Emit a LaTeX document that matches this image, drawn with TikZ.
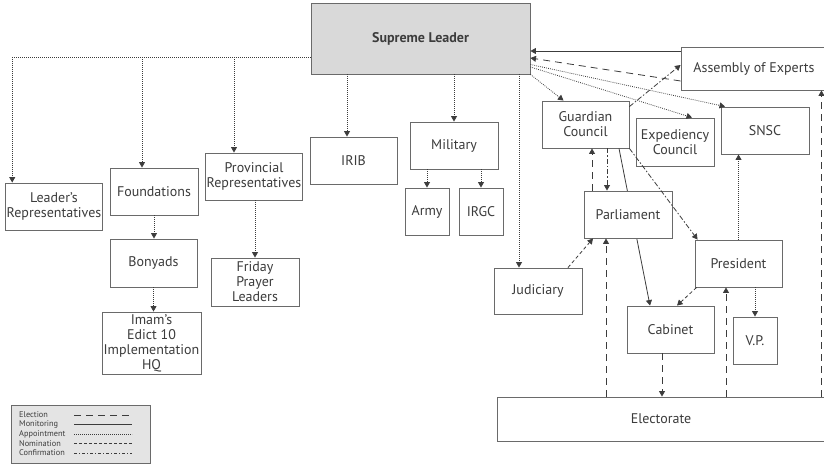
\documentclass[tikz,border=0pt]{standalone}
\usepackage{fontspec}
\setmainfont{PT Sans}
\usetikzlibrary{arrows.meta,matrix}
\definecolor{boxgray}{HTML}{6A6A6A}
\definecolor{txtgray}{HTML}{3C3C3C}
\definecolor{leadfill}{HTML}{D9D9D9}
\definecolor{legfill}{HTML}{E4E4E4}
\tikzset{
  box/.style={draw=boxgray, fill=white, line width=0.9pt, text=txtgray, align=center,
    inner sep=1pt, font=\fontsize{14}{15}\selectfont},
  link/.style={draw=txtgray, line width=0.8pt},
  elect/.style={link, dash pattern=on 7pt off 5pt},
  monit/.style={link},
  appoint/.style={link, dash pattern=on 0.8pt off 1.2pt},
  nomin/.style={link, dash pattern=on 3.5pt off 2.5pt},
  confirm/.style={link, dash pattern=on 5pt off 2pt on 1.5pt off 2pt},
}
\begin{document}
\begin{tikzpicture}[x=1pt, y=-1pt, >={Triangle[length=5.5pt,width=6pt]}]
\useasboundingbox (0,0) rectangle (824,466);
\node[box, fill=leadfill, minimum width=219, minimum height=71, font=\fontsize{14}{15}\selectfont\bfseries] (SL) at (420.5,38.5) {Supreme Leader};
\node[box, minimum width=94, minimum height=47] (LR) at (54,206.5) {Leader’s\\Representatives};
\node[box, minimum width=88, minimum height=47] (Found) at (154,191.5) {Foundations};
\node[box, minimum width=94, minimum height=47] (Prov) at (254,176.5) {Provincial\\Representatives};
\node[box, minimum width=87, minimum height=47] (IRIB) at (353.5,160.5) {IRIB};
\node[box, minimum width=88, minimum height=47] (Mil) at (454,145.5) {Military};
\node[box, minimum width=44, minimum height=47] (Army) at (427,211.5) {Army};
\node[box, minimum width=44, minimum height=47] (IRGC) at (481,211.5) {IRGC};
\node[box, minimum width=88, minimum height=46] (Jud) at (538,291) {Judiciary};
\node[box, minimum width=87, minimum height=47] (GC) at (585.5,124.5) {Guardian\\Council};
\node[box, minimum width=78, minimum height=48] (EC) at (675,142) {Expediency\\Council};
\node[box, minimum width=88, minimum height=47] (SNSC) at (765,130.5) {SNSC};
\node[box, minimum width=146, minimum height=43] (AoE) at (754,68.5) {Assembly of Experts};
\node[box, minimum width=87, minimum height=47] (Pres) at (738.5,263.5) {President};
\node[box, minimum width=87, minimum height=47] (Cab) at (670.5,329.5) {Cabinet};
\node[box, minimum width=44, minimum height=47] (VP) at (755,340.5) {V.P.};
\node[box, minimum width=328, minimum height=44] (Elec) at (661,419) {Electorate};
\node[box, minimum width=87, minimum height=48] (Bony) at (153.5,263) {Bonyads};
\node[box, minimum width=88, minimum height=48] (Fri) at (255,282) {Friday\\Prayer\\Leaders};
\node[box, minimum width=99, minimum height=62, inner sep=0pt] (Imam) at (151.5,343) {Imam’s\\Edict 10\\Implementation\\HQ};

\draw[monit,->] ([xshift=33.5pt]GC.south) -- ([xshift=-20.5pt]Cab.north);
\node[box, minimum width=88, minimum height=47] (Parl) at (628,214.5) {Parliament};

\coordinate (hl) at ([yshift=-18.5pt]SL.west);
\draw[appoint,->] (hl) -| ([xshift=7pt]LR.north west);
\coordinate (fd) at ([xshift=-12pt]Found.north);
\draw[appoint,->] (hl -| fd) -- (fd);
\coordinate (pd) at ([xshift=-20pt]Prov.north);
\draw[appoint,->] (hl -| pd) -- (pd);
\coordinate (id) at ([xshift=-6.5pt]IRIB.north);
\draw[appoint,->] (SL.south -| id) -- (id);
\draw[appoint,->] (SL.south -| Mil.north) -- (Mil.north);
\draw[appoint,->] (Mil.south -| Army.north) -- (Army.north);
\draw[appoint,->] (Mil.south -| IRGC.north) -- (IRGC.north);
\coordinate (jd) at ([xshift=-19pt]Jud.north);
\draw[appoint,->] (SL.south -| jd) -- (jd);
\draw[appoint,->] (SL.south east) -- ([xshift=-22pt]GC.north);
\draw[appoint,->] ([yshift=-28.5pt]SL.east) -- ([xshift=17pt]EC.north);
\draw[appoint,->] ([yshift=-26pt]SL.east) -- ([xshift=-40pt]SNSC.north);
\draw[appoint,->] (Found.south) -- (Found.south |- Bony.north);
\draw[appoint,->] (Bony.south) -- (Bony.south |- Imam.north);
\draw[appoint,->] (Fri.north |- Prov.south) -- (Fri.north);

\coordinate (am) at ([yshift=17.5pt]AoE.west);
\draw[monit,->] (am) -- (am -| SL.east);
\draw[elect,->] ([yshift=-12.5pt]AoE.west) -- ([yshift=-19.5pt]SL.east);
\draw[confirm,->] ([yshift=-6pt]GC.north east) -- ([yshift=3.5pt]AoE.west);
\coordinate (ea) at ([xshift=-4pt]Elec.north east);
\draw[elect,->] (ea) -- (ea |- AoE.south);

\coordinate (pg) at ([xshift=-36pt]Parl.north);
\draw[elect,->] (pg) -- (pg |- GC.south);
\coordinate (gp) at ([xshift=21.5pt]GC.south);
\draw[confirm,->] (gp) -- (gp |- Parl.north);
\draw[confirm,->] (GC.south east) -- ([xshift=3pt]Pres.north west);
\draw[nomin,->] ([xshift=30pt]Jud.north) -- ([xshift=-35pt]Parl.south);
\coordinate (ep) at ([xshift=-22pt]Parl.south);
\draw[elect,->] (ep |- Elec.north) -- (ep);
\coordinate (ce) at ([xshift=-8.5pt]Cab.south);
\draw[elect,->] (ce) -- (ce |- Elec.north);
\draw[nomin,->] ([xshift=2pt]Pres.south west) -- ([xshift=6.5pt]Cab.north);
\coordinate (er) at ([xshift=-12.5pt]Pres.south);
\draw[elect,->] (er |- Elec.north) -- (er);
\draw[appoint,->] (Pres.north) -- (Pres.north |- SNSC.south);
\draw[appoint,->] (VP.north |- Pres.south) -- (VP.north);

\node[draw=boxgray, fill=legfill, line width=0.9pt, minimum width=139, minimum height=58] (legend) at (80.5,434) {};
\matrix (leg) [matrix of nodes, inner sep=0pt, row sep=0pt, anchor=north west,
  nodes={font=\fontsize{8.3}{9.5}\selectfont, text=txtgray, inner sep=0pt, anchor=west, minimum height=9.5}] at (19,410) {
Election \\
Monitoring \\
Appointment \\
Nomination \\
Confirmation \\
};
\coordinate (ls) at (74,0);
\coordinate (le) at (132,0);
\draw[elect, line width=0.5pt] (leg-1-1 -| ls) -- (leg-1-1 -| le);
\draw[monit, line width=0.5pt] (leg-2-1 -| ls) -- (leg-2-1 -| le);
\draw[appoint, line width=0.5pt] (leg-3-1 -| ls) -- (leg-3-1 -| le);
\draw[nomin, line width=0.5pt, dash pattern=on 2.5pt off 2.5pt] (leg-4-1 -| ls) -- (leg-4-1 -| le);
\draw[confirm, line width=0.5pt, dash pattern=on 3pt off 2pt on 1pt off 2pt] (leg-5-1 -| ls) -- (leg-5-1 -| le);
\end{tikzpicture}
\end{document}
